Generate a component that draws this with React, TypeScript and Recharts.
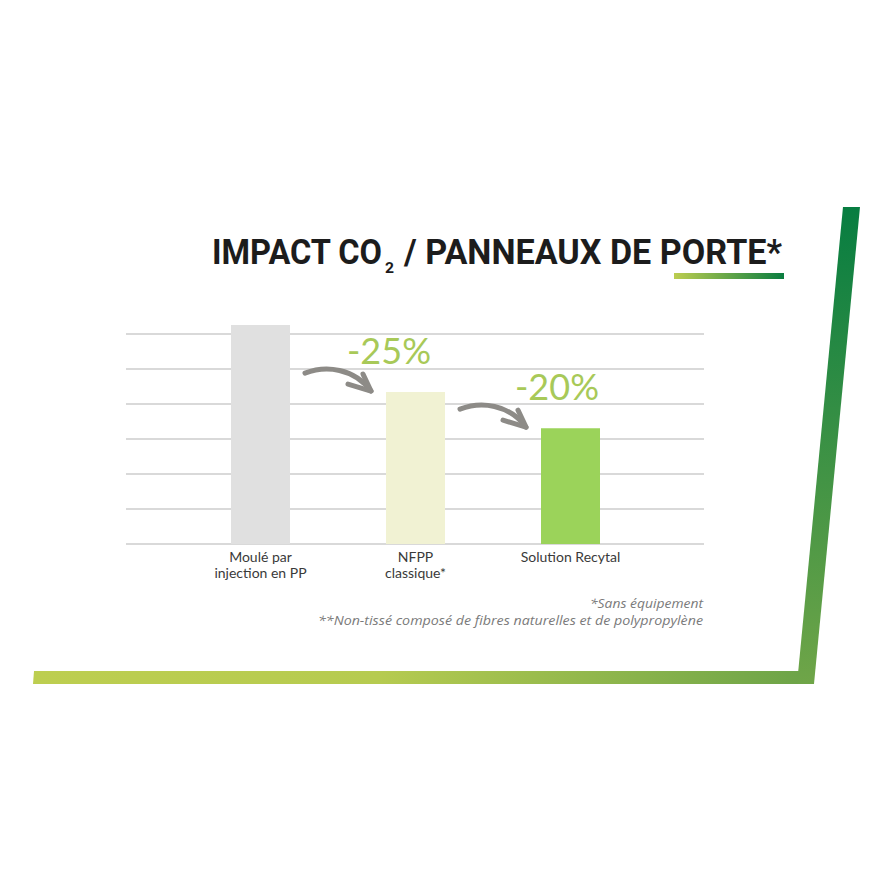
import { Bar, BarChart, CartesianGrid, Cell, LabelList, XAxis, YAxis } from "recharts"

const categories = ["Moulé par\ninjection en PP", "NFPP\nclassique*", "Solution Recytal"]
const impactValues = [6.26, 4.34, 3.31]
const deltaLabels = ["", "-25%", "-20%"]
const barColors = ["#e0e0e0", "#f1f2d3", "#9bd35a"]
const gridTicks = [0, 1, 2, 3, 4, 5, 6]
const footnotes = ["*Sans équipement", "**Non-tissé composé de fibres naturelles et de polypropylène"]

const data = categories.map((name, i) => ({
  name,
  value: impactValues[i],
  delta: deltaLabels[i],
}))

function CategoryTick({ x, y, payload }: any) {
  const lines = String(payload.value).split("\n")
  return (
    <text
      x={x}
      y={y}
      textAnchor="middle"
      fill="#3a3a3a"
      fontSize={14}
      fontFamily="Lato, sans-serif"
    >
      {lines.map((line, i) => (
        <tspan key={i} x={x} dy={16}>
          {line}
        </tspan>
      ))}
    </text>
  )
}

function DeltaLabel({ x, y, index, value }: any) {
  if (!value) return null
  const bx = Number(x)
  const by = Number(y)
  // the two labels do not sit at the same spot over their bar
  const shift = index === 1 ? 3 : 16
  return (
    <g>
      <path
        d={`M${bx - 81},${by - 19} C${bx - 60},${by - 27} ${bx - 32},${by - 24} ${bx - 15},${by - 1}`}
        fill="none"
        stroke="#8d8b87"
        strokeWidth={5}
        strokeLinecap="round"
      />
      <path
        d={`M${bx - 23},${by - 18} L${bx - 15},${by - 1} L${bx - 38},${by - 8}`}
        fill="none"
        stroke="#8d8b87"
        strokeWidth={5}
        strokeLinecap="round"
        strokeLinejoin="round"
      />
      <text
        x={bx + shift}
        y={by - 28}
        textAnchor="middle"
        fill="#a8c958"
        fontSize={36}
        fontFamily="Lato, sans-serif"
      >
        {value}
      </text>
    </g>
  )
}

export default function App() {
  const titleFont = { fill: "#1c1c1c", fontWeight: 700, fontFamily: "Roboto, sans-serif" }
  return (
    <div style={{ position: "absolute", left: 0, top: 0, width: 878, height: 878, background: "#fff" }}>
      <svg width={878} height={878} style={{ position: "absolute", left: 0, top: 0 }}>
        <defs>
          <linearGradient id="bottomBar" x1="0" y1="0" x2="1" y2="0">
            <stop offset="0" stopColor="#bdce50" />
            <stop offset="0.45" stopColor="#b6cb50" />
            <stop offset="1" stopColor="#6da448" />
          </linearGradient>
          <linearGradient id="sideBar" x1="0" y1="0" x2="0" y2="1">
            <stop offset="0" stopColor="#077d41" />
            <stop offset="1" stopColor="#6fa548" />
          </linearGradient>
          <linearGradient id="underline" x1="0" y1="0" x2="1" y2="0">
            <stop offset="0" stopColor="#bccd50" />
            <stop offset="1" stopColor="#0a7d40" />
          </linearGradient>
        </defs>
        <polygon points="843,207 860,207 814,684 797,684" fill="url(#sideBar)" />
        <polygon points="34,671 800,671 798,684 33,684" fill="url(#bottomBar)" />
        <rect x={674} y={273} width={110} height={6} fill="url(#underline)" />
        <text x={212} y={264} fontSize={35} textLength={170} lengthAdjust="spacingAndGlyphs" {...titleFont}>
          IMPACT CO
        </text>
        <text x={385} y={273} fontSize={14.5} textLength={9} lengthAdjust="spacingAndGlyphs" {...titleFont}>
          2
        </text>
        <text x={404} y={264} fontSize={35} textLength={378} lengthAdjust="spacingAndGlyphs" {...titleFont}>
          / PANNEAUX DE PORTE*
        </text>
        {footnotes.map((note, i) => (
          <text
            key={note}
            x={703}
            y={608 + i * 17}
            textAnchor="end"
            fill="#7a7a7a"
            fontSize={12.5}
            fontStyle="italic"
            fontFamily="'Open Sans', sans-serif"
            textLength={i === 0 ? 113 : 385}
            lengthAdjust="spacingAndGlyphs"
          >
            {note}
          </text>
        ))}
      </svg>
      <div style={{ position: "absolute", left: 0, top: 0 }}>
        <BarChart
          width={878}
          height={878}
          data={data}
          margin={{ top: 320, right: 174, bottom: 294, left: 126 }}
          barSize={59}
        >
          <CartesianGrid
            vertical={false}
            horizontalValues={gridTicks}
            stroke="#d9d9d9"
            strokeWidth={2}
          />
          <XAxis
            dataKey="name"
            axisLine={false}
            tickLine={false}
            tickSize={0}
            height={40}
            padding={{ left: 57, right: 56 }}
            interval={0}
            tick={<CategoryTick />}
          />
          <YAxis hide width={0} domain={[0, 6.4]} ticks={gridTicks} />
          <Bar dataKey="value" isAnimationActive={false}>
            {data.map((d, i) => (
              <Cell key={d.name} fill={barColors[i]} />
            ))}
            <LabelList dataKey="delta" content={<DeltaLabel />} />
          </Bar>
        </BarChart>
      </div>
    </div>
  )
}
